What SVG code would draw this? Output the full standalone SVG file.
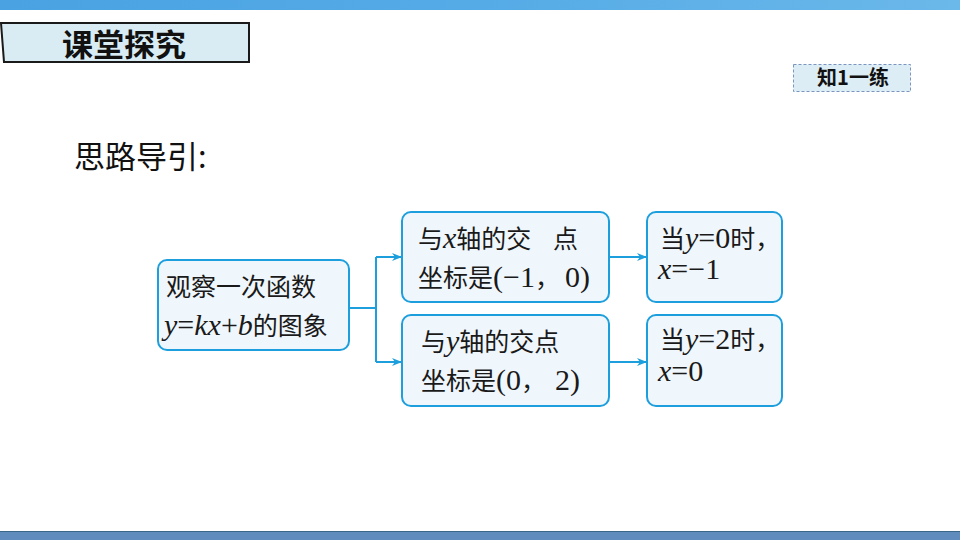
<svg xmlns="http://www.w3.org/2000/svg" width="960" height="540" viewBox="0 0 960 540">
<style>
.node rect{fill:#f0f7fc;stroke:#1c9fdc;stroke-width:2}
.t{font-family:"Liberation Serif","Noto Sans CJK SC",serif;font-size:25px;fill:#1a1a1a}
.m{font-size:30px}
.i{font-style:italic}
.conn path{fill:none;stroke:#1c9fdc;stroke-width:2}
</style>
<defs>
<linearGradient id="top" x1="0" x2="1" y1="0" y2="0">
<stop offset="0" stop-color="#4aa2e2"/><stop offset="0.5" stop-color="#55abe6"/><stop offset="1" stop-color="#6bb8ea"/>
</linearGradient>
<marker id="ah" viewBox="0 0 10 10" refX="10" refY="5" markerWidth="10" markerHeight="10" markerUnits="userSpaceOnUse" orient="auto">
<path d="M0,1 L10,5 L0,9 L3,5 Z" fill="#1c9fdc"/>
</marker>
</defs>
<rect width="960" height="540" fill="#ffffff"/>
<rect x="0" y="0" width="960" height="10" fill="url(#top)"/>
<rect x="0" y="531" width="960" height="9" fill="#5f8bbd"/>
<line x1="0" y1="531.5" x2="960" y2="531.5" stroke="#3c6688" stroke-width="1"/>

<g id="title">
<path d="M1,23 L249,23 L249,62 L4,62 Z" fill="#d9ecf4" stroke="#1a1a1a" stroke-width="2"/>
<text x="124" y="56" text-anchor="middle" font-family="'Noto Sans CJK SC',sans-serif" font-weight="bold" font-size="31" fill="#111">课堂探究</text>
</g>
<g id="badge">
<rect x="793.5" y="64.5" width="117" height="27" fill="#dcedf6" stroke="#7a96c0" stroke-width="1" stroke-dasharray="3,2"/>
<text x="853" y="85" text-anchor="middle" font-family="'Noto Sans CJK SC',sans-serif" font-weight="bold" font-size="20" fill="#111">知1一练</text>
</g>
<text x="74" y="168" font-family="'Noto Sans CJK SC',sans-serif" font-size="31" fill="#111">思路导引:</text>

<g class="conn">
<path d="M349,308 H376 M376,257 V362"/>
<path d="M376,257 H402" marker-end="url(#ah)"/>
<path d="M376,362 H402" marker-end="url(#ah)"/>
<path d="M609,257 H647" marker-end="url(#ah)"/>
<path d="M609,362 H647" marker-end="url(#ah)"/>
</g>

<g id="nodeA" class="node">
<rect x="158" y="260" width="191" height="90" rx="9"/>
<text class="t" x="166" y="296" font-size="26">观察一次函数</text>
<text class="t" x="164" y="335" font-size="27"><tspan class="m i">y</tspan><tspan class="m">=</tspan><tspan class="m i">kx</tspan><tspan class="m">+</tspan><tspan class="m i">b</tspan>的图象</text>
</g>
<g id="nodeB" class="node">
<rect x="402" y="212" width="207" height="90" rx="9"/>
<text class="t" x="418" y="248">与<tspan class="m i">x</tspan>轴的交<tspan x="553">点</tspan></text>
<text class="t" x="418" y="287">坐标是<tspan class="m">(−1</tspan>，<tspan class="m" x="565">0)</tspan></text>
</g>
<g id="nodeC" class="node">
<rect x="402" y="315" width="207" height="91" rx="9"/>
<text class="t" x="421" y="351">与<tspan class="m i">y</tspan>轴的交点</text>
<text class="t" x="421" y="390">坐标是<tspan class="m">(0</tspan>，<tspan class="m" x="555">2)</tspan></text>
</g>
<g id="nodeD" class="node">
<rect x="647" y="212" width="135" height="90" rx="9"/>
<text class="t" x="660" y="248">当<tspan class="m i">y</tspan><tspan class="m">=0</tspan>时，</text>
<text class="t" x="658" y="279"><tspan class="m i">x</tspan><tspan class="m">=−1</tspan></text>
</g>
<g id="nodeE" class="node">
<rect x="647" y="315" width="135" height="91" rx="9"/>
<text class="t" x="660" y="349">当<tspan class="m i">y</tspan><tspan class="m">=2</tspan>时，</text>
<text class="t" x="658" y="381"><tspan class="m i">x</tspan><tspan class="m">=0</tspan></text>
</g>
</svg>
